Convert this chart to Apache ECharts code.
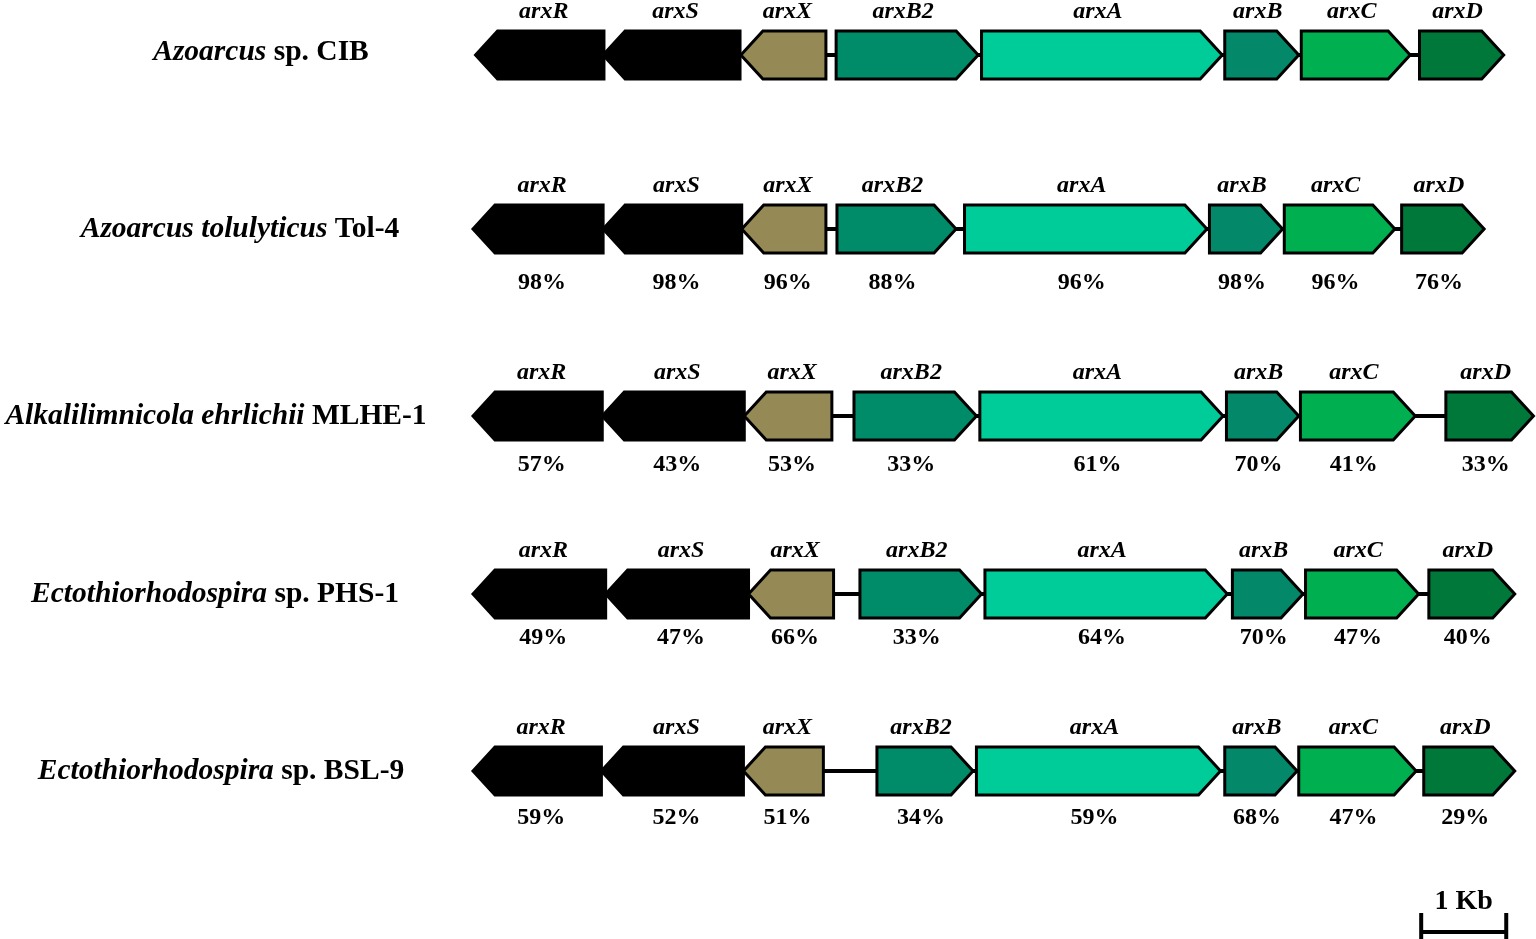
<!DOCTYPE html>
<html lang="en">
<head>
<meta charset="UTF-8">
<title>arx gene clusters</title>
<script src="https://cdn.jsdelivr.net/npm/echarts@6/dist/echarts.min.js"></script>
<style>
    html, body {
        margin: 0;
        padding: 0;
        background: #fff;
    }
    #chart {
        width: 1536px;
        height: 939px;
    }
</style>
</head>
<body>
<div id="chart"></div>
<script>
    // organisms, top to bottom: [italic part, plain part]
    var species = [
        ['Azoarcus', ' sp. CIB'],
        ['Azoarcus tolulyticus', ' Tol-4'],
        ['Alkalilimnicola ehrlichii', ' MLHE-1'],
        ['Ectothiorhodospira', ' sp. PHS-1'],
        ['Ectothiorhodospira', ' sp. BSL-9']
    ];
    var genes = ['arxR', 'arxS', 'arxX', 'arxB2', 'arxA', 'arxB', 'arxC', 'arxD'];
    var strand = [-1, -1, -1, 1, 1, 1, 1, 1];
    var geneColors = ['#000000', '#000000', '#958a55', '#008b69', '#00cc99', '#03896a', '#00b050', '#00783a'];

    // gene start / end in kb (read against the 1 Kb bar)
    var genePos = [
        [[0.03, 1.54], [1.53, 3.14], [3.15, 4.15], [4.27, 5.94], [5.98, 8.81], [8.84, 9.71], [9.74, 11.02], [11.13, 12.12]],
        [[0.00, 1.53], [1.53, 3.16], [3.16, 4.15], [4.28, 5.68], [5.78, 8.63], [8.66, 9.52], [9.54, 10.84], [10.92, 11.89]],
        [[0.00, 1.52], [1.52, 3.19], [3.19, 4.22], [4.48, 5.92], [5.96, 8.82], [8.86, 9.71], [9.73, 11.08], [11.44, 12.47]],
        [[0.00, 1.56], [1.56, 3.24], [3.24, 4.24], [4.55, 5.98], [6.02, 8.87], [8.93, 9.76], [9.79, 11.12], [11.24, 12.25]],
        [[0.00, 1.51], [1.51, 3.18], [3.18, 4.12], [4.75, 5.88], [5.92, 8.79], [8.84, 9.69], [9.71, 11.09], [11.18, 12.25]]
    ];

    // identity to the Azoarcus sp. CIB proteins
    var identity = [
        null,
        [98, 98, 96, 88, 96, 98, 96, 76],
        [57, 43, 53, 33, 61, 70, 41, 33],
        [49, 47, 66, 33, 64, 70, 47, 40],
        [59, 52, 51, 34, 59, 68, 47, 29]
    ];

    var scaleBarKb = 1;

    // layout only
    var rowY = [55, 229, 416, 594, 771];
    var pctDy = [0, 54, 49, 44, 47];
    var speciesX = [261, 240, 216, 215, 221];
    var scaleBarStart = 11.15;
    var halfH = 24, head = 22;
    var serif = '"Liberation Serif", "Times New Roman", serif';

    var geneData = [];
    genePos.forEach(function (row, r) {
        row.forEach(function (p, g) {
            geneData.push([r, g, p[0], p[1]]);
        });
    });
    var backboneData = genePos.map(function (row, r) {
        return [r, row[0][0], row[row.length - 1][1]];
    });

    function renderBackbone(params, api) {
        var y = rowY[api.value(0)];
        var a = api.coord([api.value(1), y]);
        var b = api.coord([api.value(2), y]);
        return {
            type: 'line',
            shape: {x1: a[0], y1: a[1], x2: b[0], y2: b[1]},
            style: {stroke: '#000', lineWidth: 4}
        };
    }

    function renderGene(params, api) {
        var r = api.value(0), g = api.value(1);
        var y = rowY[r];
        var a = api.coord([api.value(2), y]);
        var b = api.coord([api.value(3), y]);
        var x1 = a[0], x2 = b[0], cy = a[1];
        var pts;
        if (strand[g] > 0) {
            pts = [[x1, cy - halfH], [x2 - head, cy - halfH], [x2, cy], [x2 - head, cy + halfH], [x1, cy + halfH]];
        } else {
            pts = [[x1, cy], [x1 + head, cy - halfH], [x2, cy - halfH], [x2, cy + halfH], [x1 + head, cy + halfH]];
        }
        // labels sit a little towards the body, away from the arrow tip
        var mid = (x1 + x2) / 2 - strand[g] * 4;
        var children = [{
            type: 'polygon',
            shape: {points: pts},
            style: {fill: geneColors[g], stroke: '#000', lineWidth: 3, lineJoin: 'miter'}
        }, {
            type: 'text',
            style: {
                text: genes[g], x: mid, y: cy - 43,
                align: 'center', verticalAlign: 'middle',
                font: 'italic bold 24px ' + serif, fill: '#000'
            }
        }];
        if (identity[r]) {
            children.push({
                type: 'text',
                style: {
                    text: identity[r][g] + '%', x: mid, y: cy + pctDy[r],
                    align: 'center', verticalAlign: 'middle',
                    font: 'bold 24px ' + serif, fill: '#000'
                }
            });
        }
        return {type: 'group', children: children};
    }

    function renderSpecies(params, api) {
        var r = params.dataIndex;
        return {
            type: 'text',
            style: {
                text: '{i|' + species[r][0] + '}{n|' + species[r][1] + '}',
                x: speciesX[r], y: rowY[r] - (r === 0 ? 3 : 0),
                align: 'center', verticalAlign: 'middle',
                fill: '#000',
                rich: {
                    i: {fontStyle: 'italic', fontWeight: 'bold', fontSize: 29.5, fontFamily: serif, fill: '#000'},
                    n: {fontWeight: 'bold', fontSize: 29.5, fontFamily: serif, fill: '#000'}
                }
            }
        };
    }

    function renderScale(params, api) {
        var a = api.coord([api.value(0), 932]);
        var b = api.coord([api.value(1), 932]);
        return {
            type: 'group',
            children: [
                {type: 'line', shape: {x1: a[0], y1: a[1], x2: b[0], y2: b[1]}, style: {stroke: '#000', lineWidth: 4}},
                {type: 'line', shape: {x1: a[0], y1: 913, x2: a[0], y2: 939}, style: {stroke: '#000', lineWidth: 4}},
                {type: 'line', shape: {x1: b[0], y1: 913, x2: b[0], y2: 939}, style: {stroke: '#000', lineWidth: 4}},
                {
                    type: 'text',
                    style: {
                        text: scaleBarKb + ' Kb', x: (a[0] + b[0]) / 2, y: 902,
                        align: 'center', verticalAlign: 'middle',
                        font: 'bold 28px ' + serif, fill: '#000'
                    }
                }
            ]
        };
    }

    var myChart = echarts.init(document.getElementById('chart'));
    var option = {
        animation: false,
        backgroundColor: '#fff',
        grid: {left: 473, right: 0, top: 0, bottom: 0},
        xAxis: {type: 'value', min: 0, max: 12.5, show: false},
        yAxis: {type: 'value', min: 0, max: 939, inverse: true, show: false},
        series: [
            {type: 'custom', name: 'backbone', z: 1, clip: false, renderItem: renderBackbone, data: backboneData},
            {type: 'custom', name: 'genes', z: 2, clip: false, renderItem: renderGene, data: geneData},
            {type: 'custom', name: 'species', z: 2, clip: false, renderItem: renderSpecies, data: species.map(function (s, i) { return [0, i]; })},
            {type: 'custom', name: 'scale', z: 2, clip: false, renderItem: renderScale, data: [[scaleBarStart, scaleBarStart + scaleBarKb]]}
        ]
    };
    myChart.setOption(option);
</script>
</body>
</html>
